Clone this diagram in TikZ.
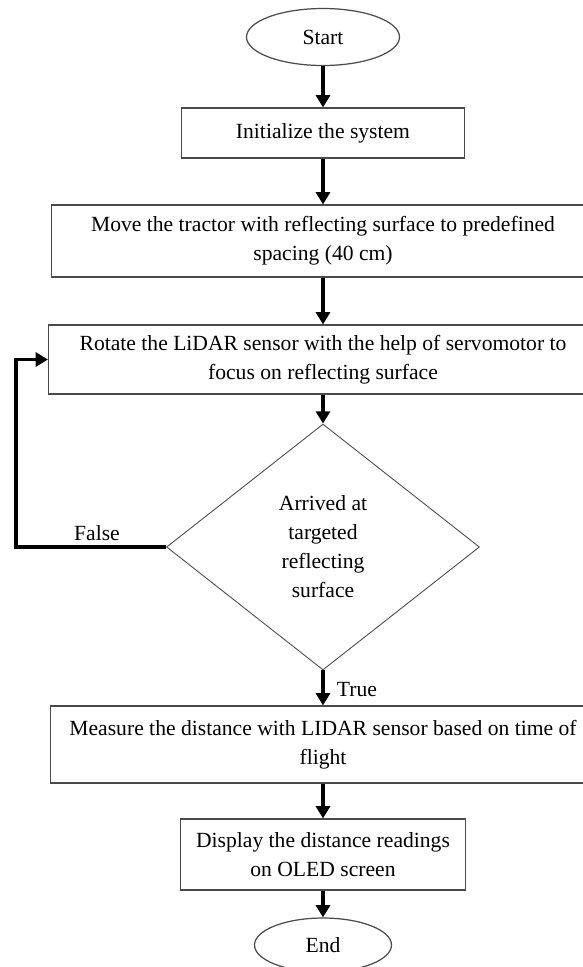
\documentclass[tikz,border=0pt]{standalone}
\usepackage{fontspec}
\setmainfont{Liberation Serif}
\usetikzlibrary{shapes.geometric,arrows.meta}

\definecolor{boxgray}{HTML}{4A4A4A}
\tikzset{
  block/.style={draw=boxgray, line width=0.7pt, rectangle, align=center, inner sep=0pt},
  term/.style={draw=boxgray, line width=0.7pt, ellipse, inner sep=0pt},
  decision/.style={draw=boxgray, line width=0.5pt, diamond, aspect=1.27, align=center, inner sep=0pt},
  flow/.style={line width=2.2pt, -{Triangle[length=7pt,width=8pt]}},
}

\begin{document}
\begin{tikzpicture}[x=0.02cm, y=-0.02cm, font=\fontsize{12.3}{16.5}\selectfont]
\useasboundingbox (0,0) rectangle (582,967);
% boxes, top to bottom
\node [term, minimum width=3.06cm, minimum height=1.14cm] (start) at (323,37) {Start};
\node [block, minimum width=5.66cm, minimum height=1.0cm] (init) at (323,133) {Initialize the system};
\node [block, minimum width=10.86cm, minimum height=1.44cm] (move) at (323,241)
  {Move the tractor with reflecting surface to predefined\\spacing (40 cm)};
\node [block, minimum width=10.98cm, minimum height=1.38cm] (rotate) at (323,359.5)
  {Rotate the LiDAR sensor with the help of servomotor to\\focus on reflecting surface};
\node [decision, minimum width=6.26cm, minimum height=4.92cm] (dec) at (323,547)
  {Arrived at\\targeted\\reflecting\\surface};
\node [block, minimum width=10.9cm, minimum height=1.54cm] (measure) at (323,744.5)
  {Measure the distance with LIDAR sensor based on time of\\flight};
\node [block, minimum width=5.7cm, minimum height=1.42cm] (display) at (323,854.5)
  {Display the distance readings\\on OLED screen};
\node [term, minimum width=2.74cm, minimum height=1.08cm] (end) at (323,945) {End};
% labels
\node (false) at (97,533) {False};
\node (true) at (357,690) {True};
% arrows
\draw [flow] (start) -- (init);
\draw [flow] (init) -- (move);
\draw [flow] (move) -- (rotate);
\draw [flow] (rotate) -- (dec);
\draw [flow] (dec) -- (measure);
\draw [flow] (measure) -- (display);
\draw [flow] (display) -- (end);
\draw [flow] (dec.west) -- ++(-150,0) |- (rotate.west);
\end{tikzpicture}
\end{document}
